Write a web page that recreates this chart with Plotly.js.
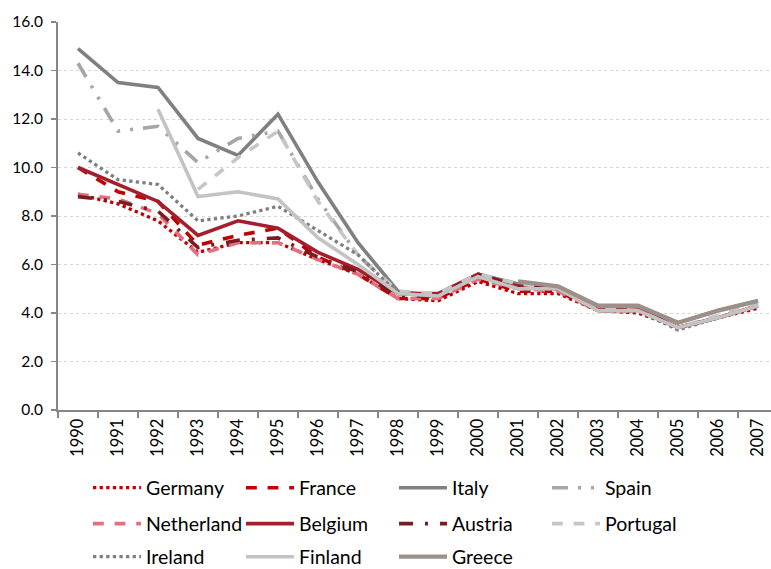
<!DOCTYPE html>
<html>
<head>
<meta charset="utf-8">
<script src="https://cdn.plot.ly/plotly-3.0.1.min.js"></script>
<style>html,body{margin:0;padding:0;overflow:hidden;background:#fff;}</style>
</head>
<body>
<div id="chart" style="width:771px;height:569px;"></div>
<script>
const years = ["1990","1991","1992","1993","1994","1995","1996","1997","1998","1999","2000","2001","2002","2003","2004","2005","2006","2007"];
const germany    = [8.9, 8.5, 7.8, 6.5, 6.9, 6.9, 6.2, 5.6, 4.6, 4.5, 5.3, 4.8, 4.8, 4.1, 4.0, 3.4, 3.8, 4.2];
const france     = [10.0, 9.0, 8.6, 6.8, 7.2, 7.5, 6.3, 5.6, 4.6, 4.6, 5.4, 4.9, 4.9, 4.1, 4.1, 3.4, 3.8, 4.3];
const italy      = [14.9, 13.5, 13.3, 11.2, 10.5, 12.2, 9.4, 6.9, 4.9, 4.7, 5.6, 5.2, 5.0, 4.3, 4.3, 3.6, 4.1, 4.5];
const spain      = [14.3, 11.5, 11.7, 10.2, 11.2, 11.5, 8.7, 6.4, 4.8, 4.7, 5.5, 5.1, 5.0, 4.1, 4.1, 3.4, 3.8, 4.3];
const netherland = [8.9, 8.7, 8.1, 6.4, 6.9, 6.9, 6.2, 5.6, 4.6, 4.6, 5.4, 5.0, 4.9, 4.1, 4.1, 3.4, 3.8, 4.3];
const belgium    = [10.0, 9.3, 8.6, 7.2, 7.8, 7.5, 6.5, 5.8, 4.8, 4.8, 5.6, 5.1, 5.0, 4.2, 4.2, 3.4, 3.8, 4.3];
const austria    = [8.8, 8.6, 8.2, 6.7, 7.0, 7.1, 6.3, 5.7, 4.7, 4.7, 5.6, 5.1, 5.0, 4.2, 4.2, 3.4, 3.8, 4.3];
const portugal   = [null, null, null, 9.1, 10.4, 11.5, 8.6, 6.4, 4.9, 4.8, 5.6, 5.2, 5.0, 4.2, 4.1, 3.4, 3.9, 4.4];
const ireland    = [10.6, 9.5, 9.3, 7.8, 8.0, 8.4, 7.4, 6.4, 4.8, 4.7, 5.5, 5.0, 5.0, 4.1, 4.1, 3.3, 3.8, 4.3];
const finland    = [null, null, 12.4, 8.8, 9.0, 8.7, 7.1, 6.0, 4.8, 4.7, 5.5, 5.0, 5.0, 4.1, 4.1, 3.4, 3.8, 4.3];
const greece     = [null, null, null, null, null, null, null, null, null, null, null, 5.3, 5.1, 4.3, 4.3, 3.6, 4.1, 4.5];
const yTicks = [0, 2, 4, 6, 8, 10, 12, 14, 16];

function tr(name, y, color, dash, width, legend) {
  return {
    type: 'scatter', mode: 'lines', name: name, x: years, y: y,
    line: {color: color, dash: dash, width: width, shape: 'linear'},
    connectgaps: false, legend: legend, hoverinfo: 'skip'
  };
}

const data = [
  tr('Germany', germany, '#c00000', 'dot', 3.3, 'legend'),
  tr('France', france, '#c00000', 'dash', 3.6, 'legend'),
  tr('Italy', italy, '#808080', 'solid', 3.6, 'legend'),
  tr('Spain', spain, '#a6a6a6', '16px,10px,3px,10px,3px,10px', 3.6, 'legend'),
  tr('Netherland', netherland, '#e2707f', 'dash', 3.6, 'legend2'),
  tr('Belgium', belgium, '#a51e2c', 'solid', 3.6, 'legend2'),
  tr('Austria', austria, '#7a1c24', '14px,12px,3px,12px', 3.6, 'legend2'),
  tr('Portugal', portugal, '#c6c6c6', 'dash', 3.6, 'legend2'),
  tr('Ireland', ireland, '#7f7f7f', 'dot', 3.3, 'legend3'),
  tr('Finland', finland, '#c3c3c3', 'solid', 3.6, 'legend3'),
  tr('Greece', greece, '#9d9088', 'solid', 4.3, 'legend3')
];

const legFont = {family: 'Lato, "Open Sans", sans-serif', size: 19.5, color: '#000'};
function leg(yPix) {
  return {
    orientation: 'h', xref: 'container', yref: 'container',
    x: 88/771, xanchor: 'left', y: 1 - yPix/569, yanchor: 'middle',
    font: legFont, entrywidth: 90, entrywidthmode: 'pixels',
    itemwidth: 48, bgcolor: 'rgba(0,0,0,0)', borderwidth: 0,
    traceorder: 'normal', itemclick: false, itemdoubleclick: false
  };
}

const layout = {
  width: 771, height: 569,
  margin: {l: 58, r: 0, t: 22, b: 159, pad: 0},
  paper_bgcolor: '#fff', plot_bgcolor: '#fff',
  font: {family: 'Lato, "Open Sans", sans-serif', color: '#000'},
  showlegend: true,
  legend: leg(488),
  legend2: leg(524),
  legend3: leg(557),
  xaxis: {
    type: 'category', range: [-0.5, 17.325],
    showgrid: false, zeroline: false,
    showline: true, linecolor: '#868686', linewidth: 2,
    ticks: 'outside', tickson: 'boundaries', ticklen: 6, tickcolor: '#868686', tickwidth: 1.5,
    tickangle: -90, tickfont: {family: 'Lato, sans-serif', size: 16.5, color: '#000'},
    fixedrange: true
  },
  yaxis: {
    range: [0, 16], tickmode: 'array', tickvals: yTicks,
    ticktext: yTicks.map(v => v.toFixed(1)),
    showgrid: true, gridcolor: '#d6d6d6', griddash: 'dot', gridwidth: 1,
    zeroline: false, showline: true, linecolor: '#868686', linewidth: 2,
    ticks: 'outside', ticklen: 5, tickcolor: '#868686', tickwidth: 1.5,
    tickfont: {family: 'Lato, sans-serif', size: 15.5, color: '#000'},
    ticklabelstandoff: 5,
    fixedrange: true
  }
};

Plotly.newPlot('chart', data, layout, {displayModeBar: false, staticPlot: true});
</script>
</body>
</html>
